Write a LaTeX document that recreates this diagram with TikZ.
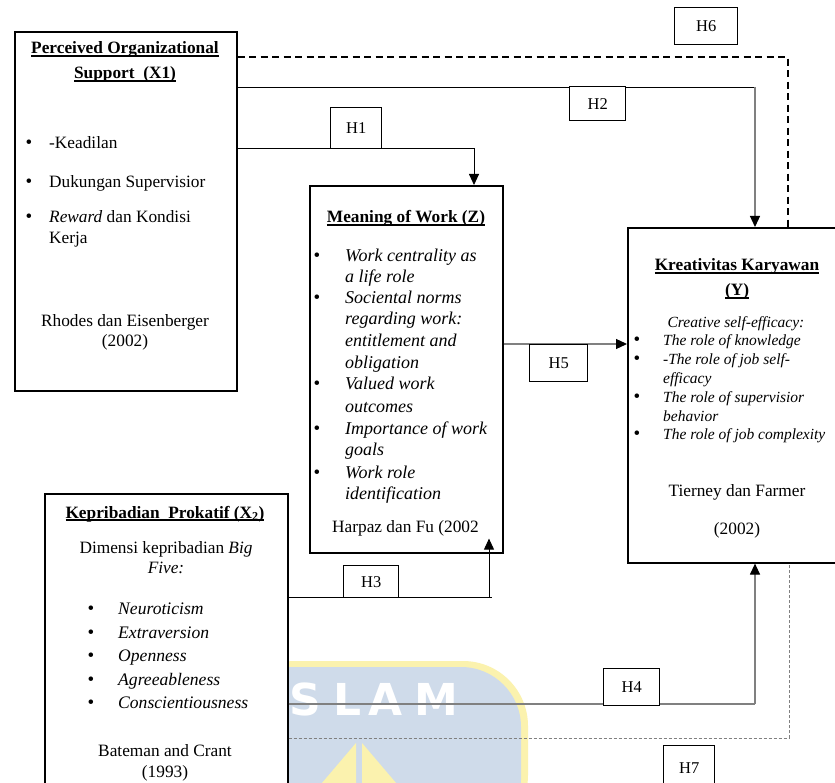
\documentclass[tikz,border=0pt]{standalone}
\usepackage{fontspec}
\setmainfont{Liberation Serif}
\newfontfamily\wmfont{DejaVu Sans}
\usetikzlibrary{arrows.meta,calc}
\definecolor{wmblue}{HTML}{CFDBEA}
\definecolor{wmyellow}{HTML}{FBF2AE}
\definecolor{lngray}{HTML}{808080}
\newcommand\myul[1]{\setbox0\hbox{#1}\rlap{\rule[-2.6pt]{\wd0}{1.2pt}}\box0}
\begin{document}
\begin{tikzpicture}[x=1pt,y=-1pt,
  bigbox/.style={draw, line width=1.6pt, fill=white, inner sep=0pt, anchor=north west},
  hbox/.style={draw, line width=1.4pt, fill=white, inner sep=0pt, anchor=north west, font=\fontsize{16.5}{18}\selectfont},
  txt/.style={inner sep=0pt, anchor=base west, font=\fontsize{17.3}{21}\selectfont},
  ctxt/.style={inner sep=0pt, anchor=base, font=\fontsize{17.3}{21}\selectfont},
  head/.style={inner sep=0pt, anchor=base, font=\fontsize{17.3}{21}\selectfont\bfseries},
  itz/.style={inner sep=0pt, anchor=base west, font=\fontsize{18}{21}\selectfont\itshape},
  ity/.style={inner sep=0pt, anchor=base west, font=\fontsize{15.5}{18}\selectfont\itshape},
  itx/.style={inner sep=0pt, anchor=base west, font=\fontsize{17.6}{21}\selectfont\itshape},
  bul/.style={inner sep=0pt, anchor=base, font=\fontsize{19}{19}\selectfont},
  conn/.style={line width=0.9pt, black},
  gconn/.style={line width=1.2pt, lngray},
  tip/.style={-{Triangle[length=11pt,width=10pt,color=black]}},
  dashthick/.style={line width=1.8pt, dash pattern=on 7pt off 4.5pt},
  dashthin/.style={line width=0.9pt, lngray, dash pattern=on 3pt off 2pt}
]
\useasboundingbox (0,0) rectangle (835,783);
\clip (0,0) rectangle (835,783);
\fill[white] (0,0) rectangle (835,783);

% watermark
\fill[wmyellow, rounded corners=65pt] (230,661) rectangle (528,840);
\fill[wmblue, rounded corners=60pt] (230,667) rectangle (521,840);
\begin{scope}[every node/.style={inner sep=0pt, anchor=base west, text=white, font=\wmfont\bfseries\fontsize{44}{44}\selectfont}]
\node (wm1) at (262,715) {I};
\node (wm2) at (289,715) {S};
\node (wm3) at (333,715) {L};
\node (wm4) at (368,715) {A};
\node (wm5) at (414,715) {M};
\end{scope}
\fill[wmyellow] (356,743) -- (316,790) -- (356,790) -- cycle;
\fill[wmyellow] (362,743) -- (362,790) -- (402,790) -- cycle;

% main boxes
\node[bigbox, minimum width=222pt, minimum height=359pt] (x1) at (14,31) {};
\node[bigbox, minimum width=193pt, minimum height=367pt] (z) at (309,185) {};
\node[bigbox, minimum width=220pt, minimum height=335pt] (y) at (627,227) {};
\node[bigbox, minimum width=243pt, minimum height=310pt] (x2) at (44,493) {};

% connector coordinates
\coordinate (c6) at (788,57);
\coordinate (c2) at (755,87);
\coordinate (c1) at (474,148);
\coordinate (c5) at (560,344);
\coordinate (c3) at (489,597);
\coordinate (c4) at (755,704);
\coordinate (c7) at (789,738);

% connectors
\draw[dashthick] (x1.east |- c6) -- (c6) -- (c6 |- y.north);
\draw[conn] (x1.east |- c2) -- (c2);
\draw[gconn, tip] (c2) -- (c2 |- y.north);
\draw[conn, tip] (x1.east |- c1) -- (c1) -- (c1 |- z.north);
\draw[gconn, tip] (z.east |- c5) -- (y.west |- c5);
\draw[conn] (x2.east |- c3) -- ($(c3)+(3,0)$);
\draw[conn, tip] (c3) -- ($(c3 |- z.south)+(0,-15)$);
\draw[gconn] (x2.east |- c4) -- (c4);
\draw[gconn, tip] (c4) -- (c4 |- y.south);
\draw[dashthin] (x2.east |- c7) -- (c7) -- (c7 |- y.south);

% hypothesis labels
\node[hbox, minimum width=63pt, minimum height=37pt] (h6) at (674,7) {H6};
\node[hbox, minimum width=56pt, minimum height=34pt] (h2) at (569,86) {H2};
\node[hbox, minimum width=51pt, minimum height=41pt] (h1) at (330,107) {H1};
\node[hbox, minimum width=58pt, minimum height=37pt] (h5) at (529,344) {H5};
\node[hbox, minimum width=55pt, minimum height=32pt] (h3) at (343,565) {H3};
\node[hbox, minimum width=56pt, minimum height=37pt] (h4) at (603,668) {H4};
\node[hbox, minimum width=51pt, minimum height=45pt] (h7) at (663,745) {H7};

% X1 text
\node[head] (x1h1) at (125,54) {\myul{Perceived Organizational}};
\node[head] (x1h2) at (125,79) {\myul{Support\ \ (X1)}};
\node[bul] (x1b1) at (29,149) {•};
\node[txt] (x1t1) at (49,149) {-Keadilan};
\node[bul] (x1b2) at (29,188) {•};
\node[txt] (x1t2) at (49,188) {Dukungan Supervisior};
\node[bul] (x1b3) at (29,223) {•};
\node[txt] (x1t3) at (49,223) {\textit{Reward} dan Kondisi};
\node[txt] (x1t4) at (49,244) {Kerja};
\node[ctxt] (x1r1) at (125,327) {Rhodes dan Eisenberger};
\node[ctxt] (x1r2) at (125,347) {(2002)};

% Z text
\node[head] (zh) at (406,223) {\myul{Meaning of Work (Z)}};
\node[bul] (zb1) at (317,262) {•};
\node[itz] (zt1) at (345,262) {Work centrality as};
\node[itz] (zt2) at (345,283) {a life role};
\node[bul] (zb2) at (317,304) {•};
\node[itz] (zt3) at (345,304) {Sociental norms};
\node[itz] (zt4) at (345,325) {regarding work:};
\node[itz] (zt5) at (345,347) {entitlement and};
\node[itz] (zt6) at (345,368) {obligation};
\node[bul] (zb3) at (317,389) {•};
\node[itz] (zt7) at (345,389) {Valued work};
\node[itz] (zt8) at (345,412) {outcomes};
\node[bul] (zb4) at (317,434) {•};
\node[itz] (zt9) at (345,434) {Importance of work};
\node[itz] (zt10) at (345,455) {goals};
\node[bul] (zb5) at (317,478) {•};
\node[itz] (zt11) at (345,478) {Work role};
\node[itz] (zt12) at (345,499) {identification};
\node[txt] (zr) at (332,532) {Harpaz dan Fu (2002};

% Y text
\node[head] (yh1) at (737,271) {\myul{Kreativitas Karyawan}};
\node[head] (yh2) at (737,296) {\myul{(Y)}};
\node[ity, anchor=base] (yc) at (736,328) {Creative self-efficacy:};
\node[bul] (yb1) at (637,346) {•};
\node[ity] (yt1) at (663,346) {The role of knowledge};
\node[bul] (yb2) at (637,364) {•};
\node[ity] (yt2) at (663,364) {-The role of job self-};
\node[ity] (yt3) at (663,383) {efficacy};
\node[bul] (yb3) at (637,402) {•};
\node[ity] (yt4) at (663,402) {The role of supervisior};
\node[ity] (yt5) at (663,421) {behavior};
\node[bul] (yb4) at (637,439) {•};
\node[ity] (yt6) at (663,439) {The role of job complexity};
\node[ctxt] (yr1) at (737,496) {Tierney dan Farmer};
\node[ctxt] (yr2) at (737,534) {(2002)};

% X2 text
\node[head] (x2h) at (165,518) {\myul{Kepribadian\ \ Prokatif (X\textsubscript{2})}};
\node[ctxt] (x2d1) at (166,553) {Dimensi kepribadian \textit{Big}};
\node[ctxt] (x2d2) at (166,573) {\textit{Five:}};
\node[bul] (x2b1) at (91,614) {•};
\node[itx] (x2t1) at (118,614) {Neuroticism};
\node[bul] (x2b2) at (91,638) {•};
\node[itx] (x2t2) at (118,638) {Extraversion};
\node[bul] (x2b3) at (91,661) {•};
\node[itx] (x2t3) at (118,661) {Openness};
\node[bul] (x2b4) at (91,685) {•};
\node[itx] (x2t4) at (118,685) {Agreeableness};
\node[bul] (x2b5) at (91,708) {•};
\node[itx] (x2t5) at (118,708) {Conscientiousness};
\node[ctxt] (x2r1) at (165,756) {Bateman and Crant};
\node[ctxt] (x2r2) at (165,777) {(1993)};
\end{tikzpicture}
\end{document}
